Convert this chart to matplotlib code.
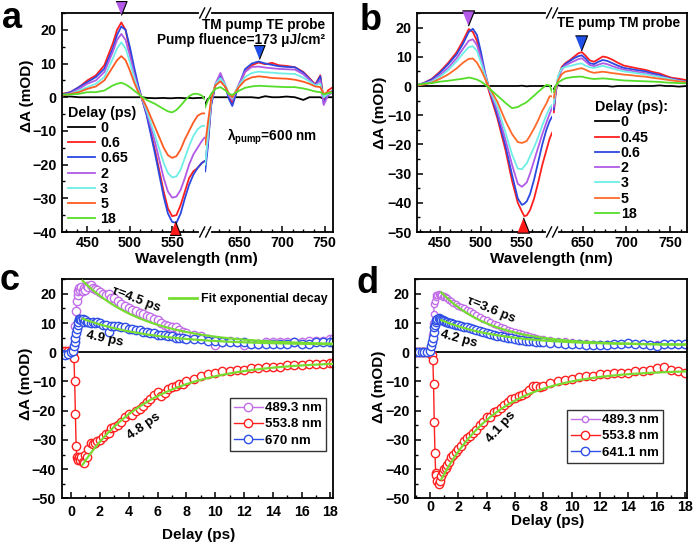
import numpy as np
import matplotlib
matplotlib.use("Agg")
import matplotlib.pyplot as plt
from matplotlib.lines import Line2D
from matplotlib.ticker import MultipleLocator, AutoMinorLocator, NullLocator
import matplotlib.transforms as mtransforms

plt.rcParams.update({
    "font.family": ["Liberation Sans", "DejaVu Sans"],
    "font.weight": "bold",
    "font.size": 10,
    "axes.labelweight": "bold",
    "axes.linewidth": 1.3,
    "mathtext.fontset": "custom",
    "mathtext.rm": "Liberation Sans:bold",
    "mathtext.it": "Liberation Sans:bold",
    "mathtext.bf": "Liberation Sans:bold",
    "mathtext.sf": "Liberation Sans:bold",
    "xtick.direction": "in", "ytick.direction": "in",
    "xtick.major.size": 4, "ytick.major.size": 4,
    "xtick.minor.size": 2.2, "ytick.minor.size": 2.2,
    "xtick.major.width": 1.1, "ytick.major.width": 1.1,
    "xtick.minor.width": 1.0, "ytick.minor.width": 1.0,
    "legend.fontsize": 9.5,
})

# ---------------- data: panel a (TM pump TE probe) ----------------
DELAYS_A = ["0", "0.6", "0.65", "2", "3", "5", "18"]
WL_A_L = [420, 430, 440, 450, 460, 470, 480, 485, 490, 495, 500, 505, 510, 515,
          520, 530, 540, 545, 550, 555, 560, 565, 570, 575, 580, 585, 588]
A_L = [
    [0.3, 0.2, 0, 0, 0, 0, 0, 0, 0, 0, 0, 0, 0, 0, -0.2, -0.3, -0.2, -0.3, -0.3, -0.2, -0.2, -0.3, -0.2, -0.3, -0.2, -0.2, 0],
    [1.0, 1.5, 3.0, 5.0, 6.5, 9.5, 16.0, 20.0, 22.2, 20.0, 14.0, 8.0, 3.0, -1.0, -5.0, -16.0, -28.0, -33.0, -35.3, -35.0, -32.0, -28.0, -24.0, -22.0, -21.0, -19.5, -19.0],
    [0.8, 1.5, 3.0, 4.5, 6.0, 8.5, 14.5, 18.5, 21.0, 20.0, 15.0, 9.0, 3.5, -1.0, -5.5, -17.0, -29.5, -34.5, -37.0, -37.3, -34.5, -30.0, -26.0, -23.0, -21.0, -19.5, -19.0],
    [0.5, 1.2, 2.5, 4.0, 5.0, 7.5, 13.5, 17.0, 18.8, 17.0, 12.5, 7.0, 2.5, -1.0, -4.5, -13.5, -24.0, -28.0, -29.8, -29.5, -27.5, -24.0, -20.0, -17.0, -15.0, -13.0, -12.0],
    [0.5, 1.0, 2.0, 3.0, 4.0, 6.0, 11.5, 14.5, 16.3, 14.5, 10.5, 6.0, 2.0, -0.5, -4.0, -11.5, -19.5, -22.5, -23.8, -23.5, -21.5, -18.0, -14.5, -11.5, -9.5, -8.5, -8.5],
    [0.5, 1.0, 1.5, 2.5, 3.2, 5.0, 9.0, 11.0, 12.2, 11.0, 8.0, 4.5, 1.5, -0.5, -3.0, -9.0, -15.0, -17.2, -18.0, -17.5, -15.5, -12.5, -10.0, -7.5, -5.5, -4.8, -4.8],
    [0.8, 0.8, 1.0, 1.5, 1.5, 2.0, 3.5, 4.0, 4.3, 3.8, 3.0, 2.0, 1.0, 0.0, -0.8, -2.0, -3.5, -4.2, -4.5, -3.8, -2.5, -1.0, 0.3, 1.0, 1.0, 0.5, -0.5],
]
WL_A_R = [609, 612, 616, 621, 627, 633, 637, 641, 648, 656, 664, 672, 680, 688,
          696, 705, 715, 725, 732, 739, 745, 749, 754, 760]
A_R = [
    [-2, -0.5, 0, 0, 0, 0, 0, 0, 0, 0, 0, -0.2, 0.3, 0, 0, 0.2, 0, -0.8, 0, 0, 0, -0.5, 0, 0],
    [-20, -14, -2, 3.5, 5.8, 3, 0.2, -1.8, 3, 7.5, 9.5, 10.3, 9.8, 10.2, 9.5, 9.3, 8.9, 7.5, 5.7, 3.8, 6.5, -0.8, 2, 3],
    [-22, -15, -2.5, 3.5, 6.2, 3, -0.5, -2.6, 3, 8.3, 10, 10.6, 10, 9.6, 9.2, 9, 8.9, 7.3, 5.5, 3.6, 6.2, -1.8, 1, 2],
    [-20, -13, -1.5, 4, 7.2, 3.5, 0.5, -0.8, 3.5, 7.5, 9, 9.1, 8.8, 8.6, 8.4, 8.3, 8.2, 6.8, 5.2, 3.5, 5, -2.3, 0.5, 1.5],
    [-20, -12, -1, 3.8, 5.7, 3.5, 1, -0.3, 3.2, 6, 7.2, 7.6, 7.4, 7.3, 7.1, 7, 6.9, 5.8, 4.7, 3.5, 4, 0, 1, 1.5],
    [-14, -8, -0.5, 3.5, 4.7, 3, 1, 0, 2.8, 5, 5.9, 6.2, 6, 5.7, 5.6, 5.5, 5.2, 4.6, 4, 3.2, 3, 1, 1.5, 1.5],
    [-3, -1, 1, 2.5, 3, 2, 1, 0.7, 1.8, 2.8, 3.2, 3.4, 3.3, 3.2, 3.1, 3, 3, 2.6, 2.2, 1.7, 1.5, 0.8, 1.2, 1.5],
]
TRI_A_WL = [489.3, 553.0, 672.0]

# ---------------- data: panel b (TE pump TM probe) ----------------
DELAYS_B = ["0", "0.45", "0.6", "2", "3", "5", "18"]
WL_B_L = [424, 430, 440, 450, 460, 470, 478, 485, 490, 495, 500, 505, 510, 520,
          530, 538, 545, 550, 553, 556, 560, 565, 570, 575, 580, 584, 587]
B_L = [
    [0.2, 0, 0, 0, 0, 0, 0, 0, 0, 0, 0, 0, 0, 0, 0, 0, 0, 0.1, 0, -0.1, 0, 0, 0, 0, 0, 0, 0],
    [0.5, 1.0, 2.5, 5.0, 8.0, 11.5, 15.5, 19.5, 18.5, 15.5, 9.5, 3.0, -2.0, -11.0, -22.0, -32.5, -40.0, -43.0, -44.6, -44.3, -42.5, -38.5, -33.0, -27.0, -22.0, -18.0, -16.0],
    [0.5, 1.0, 2.3, 4.6, 7.5, 10.8, 14.5, 18.5, 19.6, 17.5, 11.5, 4.5, -1.0, -10.0, -20.5, -30.5, -38.5, -40.7, -40.3, -39.5, -37.0, -32.0, -26.0, -20.0, -15.0, -12.0, -10.5],
    [0.4, 0.8, 1.8, 3.8, 6.3, 9.5, 12.8, 15.5, 16.0, 14.0, 9.5, 4.0, -1.0, -8.5, -18.5, -27.0, -33.5, -34.5, -33.8, -33.0, -30.0, -25.5, -21.0, -16.5, -12.5, -9.5, -7.5],
    [0.3, 0.7, 1.5, 3.2, 5.5, 8.4, 11.2, 13.3, 13.6, 12.0, 8.0, 3.5, -0.8, -7.0, -16.0, -23.5, -28.3, -28.5, -27.5, -26.5, -24.0, -21.0, -17.5, -13.5, -10.0, -7.5, -6.5],
    [0.3, 0.5, 1.2, 2.5, 4.0, 6.0, 8.0, 9.3, 9.4, 8.0, 5.5, 2.5, -0.5, -5.4, -12.0, -16.5, -19.2, -19.5, -19.2, -18.8, -17.0, -14.5, -11.7, -8.5, -6.0, -3.5, -3.5],
    [0.5, 0.8, 1.0, 1.5, 1.8, 2.2, 2.5, 2.9, 2.6, 2.2, 1.5, 0.5, -0.8, -3.3, -5.8, -7.6, -7.2, -6.4, -6.0, -5.5, -4.5, -3.3, -2.0, -0.8, 0.4, 0.2, -2.0],
]
WL_B_R = [617, 619, 622, 626, 630, 635, 640, 645, 649, 653, 658, 663, 668, 673,
          678, 684, 690, 697, 705, 713, 722, 730, 738, 745, 752, 760, 769]
B_R = [
    [-1, 0, 0.2, 0, 0, 0, 0, 0, 0, 0, 0, 0, 0, 0, 0, -0.2, 0, 0, 0, 0, 0, 0, 0.2, 0, 0, -0.2, 0],
    [-9, -3, 3, 6.5, 7.8, 8.8, 10, 11.2, 11.6, 10.5, 8.8, 8.3, 9.2, 10.1, 9.8, 9, 8, 7, 6.5, 6, 5.5, 4.8, 4.3, 3.5, 2.8, 2.5, 2],
    [-8, -2, 3, 6, 7.5, 8.5, 9.5, 10.2, 10.5, 9.5, 7.8, 7.5, 8.3, 8.9, 8.6, 7.8, 7, 6.2, 5.8, 5.4, 5, 4.3, 3.8, 3, 2.5, 2, 1.5],
    [-7, -2, 2.5, 5.5, 7, 7.8, 8.5, 9.2, 9.5, 8.5, 7.2, 6.8, 7.3, 7.8, 7.5, 6.8, 6.2, 5.6, 5.2, 4.8, 4.4, 3.8, 3.2, 2.8, 2.3, 1.8, 1.4],
    [-6, -1, 3.5, 6, 6.5, 6.8, 7.2, 7.6, 7.7, 7, 6.4, 6.2, 6.6, 6.9, 6.5, 6, 5.5, 5, 4.7, 4.3, 4, 3.5, 3.1, 2.7, 2.2, 1.7, 1.3],
    [-4, -0.5, 2, 4, 4.9, 5.2, 5.5, 5.9, 6.1, 5.6, 4.9, 4.5, 4.7, 4.9, 4.7, 4.4, 4.2, 3.9, 3.7, 3.4, 3.2, 2.8, 2.5, 2.2, 1.9, 1.6, 1.3],
    [-2, 0, 1.2, 2, 2.6, 2.9, 3.1, 3.2, 3.2, 2.9, 2.6, 2.4, 2.5, 2.6, 2.5, 2.3, 2.1, 1.9, 1.8, 1.7, 1.6, 1.5, 1.4, 1.2, 1.1, 1.0, 0.9],
]
TRI_B_WL = [484.0, 551.5, 648.0]

# ---------------- data: panel c kinetics ----------------
T_C = [-0.6, -0.4, -0.2, 0.0, 0.1, 0.2, 0.25, 0.3, 0.35, 0.4, 0.45, 0.5, 0.55, 0.6,
       0.7, 0.8, 0.9, 1.0, 1.1, 1.2,
       1.35, 1.5, 1.65, 1.8,
       2.0, 2.2, 2.4, 2.6, 2.8,
       3.0, 3.25, 3.5, 3.75, 4.0, 4.25, 4.5, 4.75, 5.0, 5.25, 5.5, 5.75, 6.0, 6.25, 6.5, 6.75, 7.0, 7.25, 7.5, 7.75,
       8.0, 8.5, 9.0, 9.5, 10.0, 10.5, 11.0, 11.5, 12.0, 12.5, 13.0, 13.5, 14.0, 14.5, 15.0, 15.5, 16.0, 16.5, 17.0, 17.5, 18.0,
       18.2]
C_489 = [0, 0, 0, 0.2, 0.5, 2, 5, 9, 14, 17.5, 19.5, 21, 22, 21.5,
         22.5, 21, 22, 21.5, 22.8, 22.5,
         23, 22, 21.8, 21.2,
         20.5, 20, 19.5, 20, 18.5,
         18.5, 17.5, 16.5, 16, 15, 14.5, 14, 13.5, 13, 12.5, 12, 11.5, 11, 10, 9.5, 9, 8.5, 8.5, 7.5, 7,
         6.5, 6, 5.5, 4.5, 2.5, 3.5, 4, 3.5, 2.5, 3, 3, 3.5, 3.5, 3.5, 3.5, 3.5, 3.5, 4, 4, 4, 4.5,
         4.5]
C_553 = [0.5, 0.5, 0.5, 0.5, 0, -2, -10, -21, -32, -36, -36.5, -37, -36, -37,
         -36, -37.5, -38, -35, -36, -33,
         -31, -31.5, -31, -30.5,
         -30, -29, -28, -27.5, -26,
         -25.5, -25, -24, -22, -21, -21.5, -20, -19.5, -18.5, -17, -16, -14.5, -13.5, -15, -14, -12.5, -12, -11.5, -11, -11,
         -10, -9, -8, -7.5, -7, -6.5, -6.5, -6, -6, -5.5, -5.5, -5, -5, -5, -4.5, -4.5, -4.5, -4, -4, -4, -3.5,
         -3.5]
C_670 = [-0.5, -1, -0.5, 0, 0.5, 2, 3.5, 5, 6.5, 8, 9.5, 10.5, 11.5, 11.5,
         11, 11.5, 10.5, 11, 10.5, 10.5,
         10, 10.5, 10, 10.5,
         10, 9.5, 9.5, 7, 9,
         9, 9, 8.5, 8.5, 8, 8, 7.5, 7.5, 7, 7, 6.5, 6.5, 6, 6, 6, 5.5, 5.5, 5, 5, 5,
         4.5, 4.5, 4.5, 4, 4, 3.5, 3.5, 3.5, 3.5, 3, 3, 3, 3, 3, 3, 3.5, 3, 3, 3.5, 3.5, 3.5,
         3.5]
LABELS_C = ["489.3 nm", "553.8 nm", "670 nm"]
FIT_C_AMP = [22.0, -35.5, 9.0]
FIT_C_TAU = [4.5, 4.8, 4.9]
FIT_C_OFF = [2.5, -3.0, 2.5]
FIT_C_T = [0.8, 18.2]

# ---------------- data: panel d kinetics ----------------
T_D = [-1.0, -0.8, -0.6, -0.4, -0.2, 0.0, 0.1, 0.15, 0.2, 0.25, 0.3, 0.35, 0.4, 0.45, 0.5, 0.6,
       0.7, 0.8, 0.9, 1.0, 1.1, 1.2,
       1.35, 1.5, 1.65, 1.8,
       2.0, 2.2, 2.4, 2.6, 2.8,
       3.0, 3.25, 3.5, 3.75, 4.0, 4.25, 4.5, 4.75, 5.0, 5.25, 5.5, 5.75, 6.0, 6.25, 6.5, 6.75, 7.0, 7.25, 7.5, 7.75,
       8.0, 8.5, 9.0, 9.5, 10.0, 10.5, 11.0, 11.5, 12.0, 12.5, 13.0, 13.5, 14.0, 14.5, 15.0, 15.5, 16.0, 16.5, 17.0, 17.5, 18.0]
D_489 = [0, 0, 0, 0, 0, 0.5, 3, 6, 10, 13, 16.5, 17.5, 19, 19.5, 19.5, 19.8,
         19.5, 19.5, 19, 19.2, 18.8, 18.5,
         18, 17.5, 17, 16.5,
         16, 15.5, 15, 14.5, 14,
         13.5, 12.8, 12, 11.5, 11, 10.3, 9.8, 9.3, 8.8, 8.3, 7.8, 7.4, 7, 6.6, 6.2, 5.8, 5.5, 5.2, 5, 4.7,
         4.5, 4.2, 4, 3.7, 3.5, 3.3, 3.2, 3, 3, 2.9, 2.8, 2.8, 2.8, 2.7, 2.7, 2.7, 2.7, 2.6, 2.6, 2.6, 2.6]
D_553 = [0, 0, 0, 0, 0, 0, -0.5, -1, -2.5, -11, -24, -34.5, -41.5, -42, -44, -45,
         -44, -42.5, -41, -40, -39.5, -38.5,
         -37.5, -36, -35, -34,
         -33, -32, -30.5, -29.5, -28.5,
         -27.5, -26.5, -25, -24, -22, -22, -20.5, -20, -19, -18, -17, -16, -15.5, -15, -14.5, -14, -13, -11.5, -11.5, -12,
         -11.5, -10.5, -10, -9.5, -9, -8.5, -8, -8, -7.5, -7.5, -7, -7, -7, -6.5, -6.5, -6, -5.5, -5, -6, -6.5, -7]
D_641 = [0, 0, 0, 0, 0, 0.5, 2, 3.5, 5, 7, 8.5, 9.5, 10.5, 11, 11.5, 11.8,
         11.3, 11, 11, 10.8, 10.5, 10.5,
         10.2, 10, 9.8, 9.5,
         9.3, 9, 8.8, 8.8, 8.2,
         8, 7.7, 7.2, 7, 6.5, 6.2, 6, 5.7, 5.5, 5.2, 5, 4.8, 4.5, 4.3, 4.2, 4, 3.9, 3.7, 3.6, 3.5,
         3.4, 3.3, 3.1, 3, 3, 2.8, 2.6, 2.5, 2.5, 2.6, 2.8, 3, 3.2, 3, 2.8, 2.5, 2.2, 2.8, 3, 3, 3]
LABELS_D = ["489.3 nm", "553.8 nm", "641.1 nm"]
FIT_D_AMP = [18.0, -37.5, 8.5]
FIT_D_TAU = [3.6, 4.1, 4.2]
FIT_D_OFF = [2.5, -6.0, 2.5]
FIT_D_T = [0.8, 18.0]

# ---------------- styling ----------------
COL_A = ["#000000", "#ff1f1f", "#2b48e0", "#b05be6", "#6eeee6", "#ff5a22", "#55dd2a"]
COL_B = ["#000000", "#ff1f1f", "#2b48e0", "#b05be6", "#6eeee6", "#ff6a2a", "#55dd2a"]
COL_K = ["#c26ee8", "#ff2020", "#2f4fe6"]
C_FIT = "#77dd33"
TRI_COL = ["#b45ae8", "#ff1a1a", "#1f50e8"]
TICK_FS = 10.3
LEG_FS = 10.3

W, H = 695, 543
fig = plt.figure(figsize=(W / 100, H / 100), dpi=100)


def fx(px):
    return px / W


def fy(py):
    return 1 - py / H


def mkax(l, t, r, b):
    return fig.add_axes([fx(l), fy(b), (r - l) / W, (b - t) / H])


def breakmark(xp, yp):
    fig.add_artist(Line2D([fx(xp - 4), fx(xp + 4)], [fy(yp), fy(yp)], color="white",
                          lw=3, transform=fig.transFigure, zorder=10))
    for dx in (-3.0, 3.0):
        fig.add_artist(Line2D([fx(xp + dx - 2.5), fx(xp + dx + 2.5)], [fy(yp + 5), fy(yp - 5)],
                              color="black", lw=1.0, transform=fig.transFigure, zorder=11))


DOWN = [(-0.8, 1), (0.8, 1), (0, -1)]
UP = [(-0.8, -1), (0.8, -1), (0, 1)]


def spectra_panel(l, t, r, b, xj, xlimL, xlimR, ylim, wlL, wlR, sL, sR, cols, labs):
    axL = mkax(l, t, xj, b)
    axR = mkax(xj, t, r, b)
    axL.spines["right"].set_visible(False)
    axR.spines["left"].set_visible(False)
    for yl, yr, c, lab in zip(sL, sR, cols, labs):
        axL.plot(wlL, yl, color=c, lw=1.3, label=lab)
        axR.plot(wlR, yr, color=c, lw=1.3)
    axL.set_xlim(xlimL)
    axR.set_xlim(xlimR)
    for ax in (axL, axR):
        ax.set_ylim(ylim)
        ax.xaxis.set_major_locator(MultipleLocator(50))
        ax.xaxis.set_minor_locator(AutoMinorLocator(4))
        ax.tick_params(axis="x", which="both", top=False, pad=3, labelsize=TICK_FS)
    axL.yaxis.set_major_locator(MultipleLocator(10))
    axL.yaxis.set_minor_locator(MultipleLocator(5))
    axL.tick_params(axis="y", which="both", right=False, pad=4, labelsize=TICK_FS)
    axR.yaxis.set_major_locator(NullLocator())
    axR.yaxis.set_minor_locator(NullLocator())
    breakmark(xj, t)
    breakmark(xj, b)
    return axL, axR


# ---------------- panel a ----------------
aL, aR = spectra_panel(62, 13, 333, 232, 205.2, (420, 589), (609, 760), (-40, 25),
                       WL_A_L, WL_A_R, A_L, A_R, COL_A, DELAYS_A)
bt = mtransforms.blended_transform_factory(aL.transData, aL.transAxes)
aL.plot([TRI_A_WL[0]], [1.021], marker=DOWN, ms=10, color=TRI_COL[0], mec="black",
        mew=0.8, transform=bt, clip_on=False, zorder=12, ls="none")
aL.plot([TRI_A_WL[1]], [0.018], marker=UP, ms=10, color=TRI_COL[1], mec="black",
        mew=0.8, transform=bt, clip_on=False, zorder=12, ls="none")
aR.plot([TRI_A_WL[2]], [13.3], marker=DOWN, ms=10, color=TRI_COL[2], mec="black",
        mew=0.8, clip_on=False, zorder=12, ls="none")
lg = aL.legend(loc="upper left", bbox_to_anchor=(fx(68), fy(106)), bbox_transform=fig.transFigure,
               frameon=False, title="Delay (ps)", alignment="left", fontsize=LEG_FS, title_fontsize=LEG_FS,
               handlelength=1.9, handletextpad=0.35, labelspacing=0.08, borderpad=0, borderaxespad=0)
fig.text(fx(325), fy(25), "TM pump TE probe", ha="right", va="center", fontsize=9.8)
fig.text(fx(325), fy(40), "Pump fluence=173 μJ/cm²", ha="right", va="center", fontsize=9.8)
fig.text(fx(227), fy(137), r"$\lambda_{\rm pump}$=600 nm", ha="left", va="center", fontsize=9.8)
fig.text(fx(196.7), fy(258.5), "Wavelength (nm)", ha="center", va="center", fontsize=11)
fig.text(fx(27), fy(96), "ΔA (mOD)", ha="center", va="center", rotation=90, fontsize=11)

# ---------------- panel b ----------------
bL, bR = spectra_panel(417.3, 13, 686.7, 232, 552.1, (422, 587), (615, 769), (-50, 25),
                       WL_B_L, WL_B_R, B_L, B_R, COL_B, DELAYS_B)
bt = mtransforms.blended_transform_factory(bL.transData, bL.transAxes)
bL.plot([TRI_B_WL[0]], [0.975], marker=DOWN, ms=11, color=TRI_COL[0], mec="black",
        mew=0.8, transform=bt, clip_on=False, zorder=12, ls="none")
bL.plot([TRI_B_WL[1]], [0.03], marker=UP, ms=11, color=TRI_COL[1], mec="black",
        mew=0.8, transform=bt, clip_on=False, zorder=12, ls="none")
bR.plot([TRI_B_WL[2]], [14.6], marker=DOWN, ms=11, color=TRI_COL[2], mec="black",
        mew=0.8, clip_on=False, zorder=12, ls="none")
bh, bl = bL.get_legend_handles_labels()
bR.legend(bh, bl, loc="upper left", bbox_to_anchor=(fx(595), fy(100)), bbox_transform=fig.transFigure,
          frameon=False, title="Delay (ps):", alignment="left", fontsize=LEG_FS, title_fontsize=LEG_FS,
          handlelength=1.7, handletextpad=0.1, labelspacing=0.09, borderpad=0, borderaxespad=0)
fig.text(fx(680), fy(23), "TE pump TM probe", ha="right", va="center", fontsize=9.8)
fig.text(fx(551), fy(258.5), "Wavelength (nm)", ha="center", va="center", fontsize=11)
fig.text(fx(380), fy(113), "ΔA (mOD)", ha="center", va="center", rotation=90, fontsize=11)


# ---------------- kinetics panels ----------------
def kin_panel(l, t, r, b, xlim, T, series, labels, amps, taus, offs, trange, ms_list):
    ax = mkax(l, t, r, b)
    ax.axhline(0, color="black", lw=1.3, zorder=1.5)
    for y, c, lab, ms in zip(series, COL_K, labels, ms_list):
        ax.plot(T, y, "-o", color=c, mfc="white", ms=ms, mew=1.0, lw=1.0, label=lab, zorder=2)
    tf = np.linspace(trange[0], trange[1], 300)
    for A, tau, C in zip(amps, taus, offs):
        ax.plot(tf, C + A * np.exp(-(tf - trange[0]) / tau), color=C_FIT, lw=1.6, zorder=5)
    ax.set_xlim(xlim)
    ax.set_ylim(-50, 25)
    ax.xaxis.set_major_locator(MultipleLocator(2))
    ax.xaxis.set_minor_locator(MultipleLocator(1))
    ax.yaxis.set_major_locator(MultipleLocator(10))
    ax.yaxis.set_minor_locator(MultipleLocator(5))
    ax.tick_params(which="both", top=False, right=False, labelsize=TICK_FS)
    ax.tick_params(axis="y", pad=4)
    return ax


cax = kin_panel(61.7, 279.3, 333.3, 498.3, (-0.65, 18.2), T_C, [C_489, C_553, C_670], LABELS_C,
                FIT_C_AMP, FIT_C_TAU, FIT_C_OFF, FIT_C_T, [6, 6, 6])
cax.tick_params(axis="x", pad=5)
h, l = cax.get_legend_handles_labels()
leg1 = cax.legend([Line2D([], [], color=C_FIT, lw=2)], ["Fit exponential decay"], loc="upper left",
                  bbox_to_anchor=(fx(169), fy(293)), bbox_transform=fig.transFigure, frameon=False,
                  fontsize=8.9, handlelength=2.3, handletextpad=0.3, borderpad=0, borderaxespad=0)
cax.add_artist(leg1)
leg2 = cax.legend(h, l, loc="upper left", bbox_to_anchor=(fx(230), fy(398)), bbox_transform=fig.transFigure,
                  frameon=True, fancybox=False, edgecolor="black", fontsize=9.5, handlelength=2.2,
                  handletextpad=0.15, labelspacing=0.3, borderpad=0.3, borderaxespad=0)
leg2.get_frame().set_linewidth(1.0)
fig.text(fx(136.3), fy(299.3), "τ=4.5 ps", ha="center", va="center", rotation=-21, fontsize=9.5)
fig.text(fx(105), fy(339.3), "4.9 ps", ha="center", va="center", rotation=-12, fontsize=9.5)
fig.text(fx(144), fy(426.7), "4.8 ps", ha="center", va="center", rotation=35, fontsize=9.5)
fig.text(fx(198.3), fy(535), "Delay (ps)", ha="center", va="center", fontsize=11)
fig.text(fx(26), fy(383.5), "ΔA (mOD)", ha="center", va="center", rotation=90, fontsize=11)

dax = kin_panel(415, 279.3, 686.7, 498.3, (-1.06, 18.12), T_D, [D_489, D_553, D_641], LABELS_D,
                FIT_D_AMP, FIT_D_TAU, FIT_D_OFF, FIT_D_T, [4.5, 6, 6])
dax.tick_params(axis="x", pad=1.5)
h, l = dax.get_legend_handles_labels()
leg3 = dax.legend(h, l, loc="upper left", bbox_to_anchor=(fx(567), fy(410)), bbox_transform=fig.transFigure,
                  frameon=True, fancybox=False, edgecolor="black", fontsize=9.5, handlelength=2.2,
                  handletextpad=0.15, labelspacing=0.3, borderpad=0.3, borderaxespad=0)
leg3.get_frame().set_linewidth(1.0)
fig.text(fx(490.7), fy(310), "τ=3.6 ps", ha="center", va="center", rotation=-22, fontsize=9.5)
fig.text(fx(459), fy(339), "4.2 ps", ha="center", va="center", rotation=-15, fontsize=9.5)
fig.text(fx(501), fy(427), "4.1 ps", ha="center", va="center", rotation=48, fontsize=9.5)
fig.text(fx(548), fy(521), "Delay (ps)", ha="center", va="center", fontsize=11)
fig.text(fx(379), fy(386.5), "ΔA (mOD)", ha="center", va="center", rotation=90, fontsize=11)

# ---------------- panel letters ----------------
for ch, x, y in (("a", 2, 28), ("b", 360, 30), ("c", 0, 290), ("d", 357, 293)):
    fig.text(fx(x), fy(y), ch, ha="left", va="baseline", fontsize=26, fontweight="bold")

fig.savefig("out.png", dpi=100)
